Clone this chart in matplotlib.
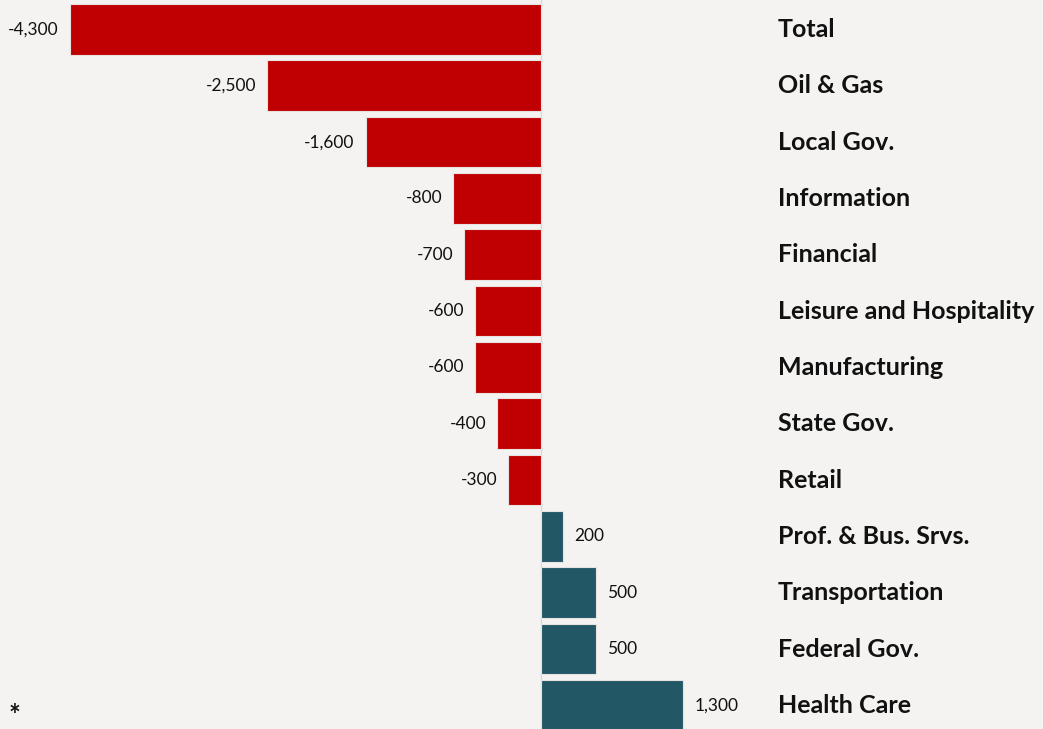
import numpy as np
import matplotlib.pyplot as plt
from matplotlib.transforms import blended_transform_factory

categories = ["Total", "Oil & Gas", "Local Gov.", "Information", "Financial",
              "Leisure and Hospitality", "Manufacturing", "State Gov.", "Retail",
              "Prof. & Bus. Srvs.", "Transportation", "Federal Gov.", "Health Care"]
values = [-4300, -2500, -1600, -800, -700, -600, -600, -400, -300, 200, 500, 500, 1300]
value_labels = ["-4,300", "-2,500", "-1,600", "-800", "-700", "-600", "-600", "-400", "-300",
                "200", "500", "500", "1,300"]

bg = "#f4f3f1"
red = "#c00000"
teal = "#225866"

fig = plt.figure(figsize=(10.43, 7.29), dpi=100, facecolor=bg)
ax = fig.add_axes([0, 0, 1, 1])
ax.set_facecolor(bg)

y = np.arange(len(categories))
colors = [red if v < 0 else teal for v in values]
ax.barh(y, values, height=0.9, color=colors, edgecolor="#e8e2e0", linewidth=0.8, zorder=2)
ax.axvline(0, color="#d9d9d9", linewidth=1, zorder=1)

ax.set_xlim(-4940, 4584)
ax.set_ylim(12.42, -0.524)
ax.axis("off")

for yi, v, lab in zip(y, values, value_labels):
    off = -8 if v < 0 else 8
    ax.annotate(lab, (v, yi), xytext=(off, 0), textcoords="offset points",
                ha="right" if v < 0 else "left", va="center",
                fontsize=12.5, family="Lato", color="#111111")

trans = blended_transform_factory(fig.transFigure, ax.transData)
for yi, cat in zip(y, categories):
    ax.text(0.746, yi, cat, transform=trans, ha="left", va="center",
            fontsize=18, fontweight="bold", family="Lato", color="#111111")

fig.text(0.008, 0.0, "*", fontsize=20, fontweight="bold", family="Lato", color="#111111",
         ha="left", va="bottom")

plt.savefig("out.png", dpi=100, facecolor=bg)
plt.close()
